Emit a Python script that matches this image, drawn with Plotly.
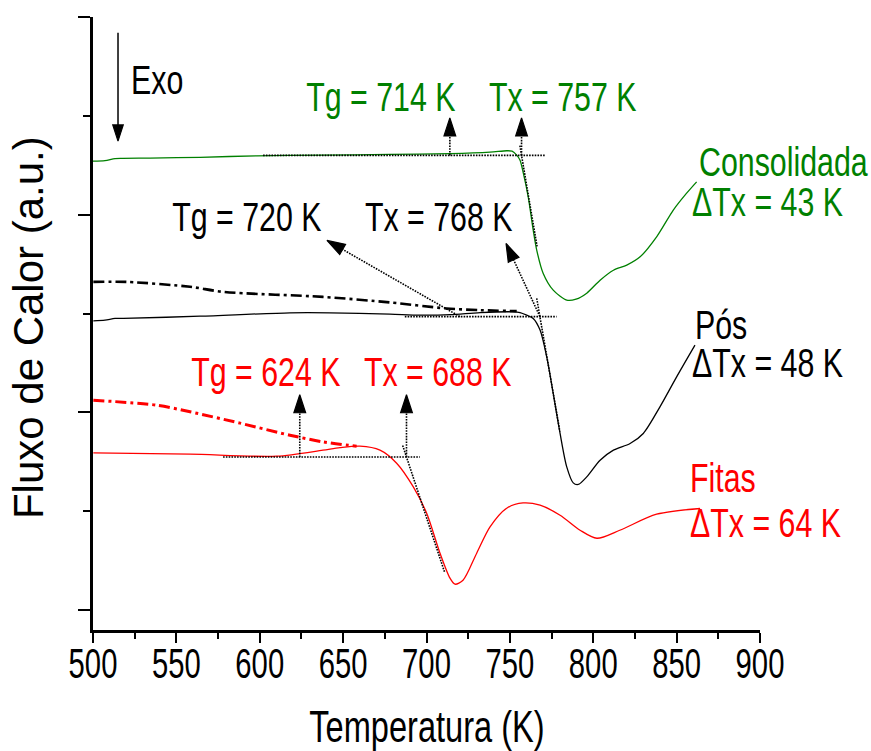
import plotly.graph_objects as go

# DSC scans: temperature (K) and heat flow (a.u., traces offset vertically)
cons_T = [500.0, 507.2, 513.2, 518.0, 534.2, 564.2, 598.2, 636.2, 678.1, 714.1, 738.1, 748.1,
          751.3, 754.1, 756.1, 758.1, 761.0, 764.0, 766.1, 770.0, 776.0, 784.1, 789.7, 796.1,
          804.1, 812.1, 820.1, 828.1, 838.0, 848.0, 856.0, 862.0]
cons_q = [4.542, 4.547, 4.568, 4.570, 4.573, 4.581, 4.596, 4.603, 4.610, 4.618, 4.633, 4.647,
          4.643, 4.603, 4.552, 4.418, 4.181, 3.844, 3.642, 3.406, 3.237, 3.136, 3.146, 3.207,
          3.338, 3.439, 3.490, 3.574, 3.776, 4.047, 4.218, 4.333]

pos_T = [500.2, 507.2, 513.2, 518.2, 564.2, 618.1, 642.1, 678.1, 696.1, 714.1, 732.1, 751.9,
         756.1, 760.1, 764.0, 768.1, 772.1, 776.0, 780.1, 784.1, 788.0, 791.0, 796.1, 804.1,
         812.1, 822.1, 830.0, 840.0, 850.0, 861.0]
pos_q = [2.927, 2.934, 2.951, 2.951, 2.974, 3.008, 3.008, 2.994, 2.984, 2.989, 3.010, 3.018,
         3.010, 2.984, 2.951, 2.833, 2.562, 2.192, 1.788, 1.450, 1.288, 1.272, 1.349, 1.517,
         1.619, 1.686, 1.788, 2.057, 2.360, 2.681]

# second (dash-dot) scan of the post-treated sample
pos2_T = [500.2, 520.2, 558.2, 578.1, 637.9, 678.1, 712.1, 732.1, 754.1]
pos2_q = [3.321, 3.321, 3.271, 3.220, 3.169, 3.113, 3.052, 3.035, 3.025]

fit_T = [500.2, 558.2, 610.2, 637.9, 648.1, 660.1, 672.1, 682.1, 692.1, 700.1, 708.1, 714.1,
         717.1, 721.9, 730.1, 738.1, 748.1, 757.9, 768.1, 780.1, 792.1, 802.2, 815.9, 838.0,
         864.1]
fit_q = [1.591, 1.578, 1.558, 1.619, 1.644, 1.659, 1.619, 1.487, 1.247, 0.981, 0.577, 0.324,
         0.263, 0.303, 0.577, 0.843, 1.032, 1.085, 1.062, 0.961, 0.809, 0.728, 0.809, 0.971,
         1.029]

# second (dash-dot) scan of the ribbons
fit2_T = [500.2, 538.2, 558.2, 588.2, 618.1, 637.9, 658.1]
fit2_q = [2.124, 2.074, 2.007, 1.892, 1.770, 1.703, 1.659]

# characteristic temperatures
samples = ["Consolidada", "Pós", "Fitas"]
Tg = [714, 720, 624]
Tx = [757, 768, 688]
base_q = [4.60, 2.97, 1.55]                       # baseline level before crystallisation
base_span = [(602, 771), (687, 778), (578, 696)]  # extent of the baseline construction
tan_slope = [-0.099, -0.097, -0.051]              # onset tangent slope (a.u./K)
tan_span = [(-1.0, 9.3), (-1.9, 12.0), (-2.3, 23.0)]
tg_tip = [(714, 4.98), (640.3, 3.74), (624, 2.18)]
tx_tip = [(757, 4.98), (747.7, 3.71), (688, 2.18)]

colors = ["#008000", "#000000", "#ff0000"]
FONT = "Liberation Sans, Arial, sans-serif"

fig = go.Figure()

curve_style = dict(mode="lines", line_shape="spline", hoverinfo="skip", showlegend=False)
fig.add_trace(go.Scatter(x=cons_T, y=cons_q, line=dict(color=colors[0], width=1.3, smoothing=0.8),
                         **curve_style))
fig.add_trace(go.Scatter(x=pos2_T, y=pos2_q,
                         line=dict(color=colors[1], width=2.6, smoothing=0.8, dash="11px,4px,3px,4px"),
                         **curve_style))
fig.add_trace(go.Scatter(x=pos_T, y=pos_q, line=dict(color=colors[1], width=1.3, smoothing=0.8),
                         **curve_style))
fig.add_trace(go.Scatter(x=fit2_T, y=fit2_q,
                         line=dict(color=colors[2], width=3, smoothing=0.8, dash="11px,4px,3px,4px"),
                         **curve_style))
fig.add_trace(go.Scatter(x=fit_T, y=fit_q, line=dict(color=colors[2], width=1.3, smoothing=0.8),
                         **curve_style))

helper = dict(color="#000000", width=1.6, dash="1.6px,1.2px")
arrow_marker = dict(symbol="arrow", size=[0, 19], angleref="previous", color="#000000",
                    opacity=1, line=dict(width=1.2, color="#000000"))

for i in range(3):
    b = base_q[i]
    # baseline
    fig.add_trace(go.Scatter(x=list(base_span[i]), y=[b, b], mode="lines", line=helper,
                             hoverinfo="skip", showlegend=False))
    # onset tangent through (Tx, baseline)
    s0, s1 = tan_span[i]
    fig.add_trace(go.Scatter(x=[Tx[i] + s0, Tx[i] + s1],
                             y=[b + tan_slope[i] * s0, b + tan_slope[i] * s1],
                             mode="lines", line=helper, hoverinfo="skip", showlegend=False))
    # pointer arrows from Tg and Tx to their labels
    for T0, tip in ((Tg[i], tg_tip[i]), (Tx[i], tx_tip[i])):
        fig.add_trace(go.Scatter(x=[T0, tip[0]], y=[b, tip[1]], mode="lines+markers",
                                 line=helper, marker=arrow_marker,
                                 hoverinfo="skip", showlegend=False))

# "Exo" direction arrow
fig.add_trace(go.Scatter(x=[515, 515], y=[5.84, 4.745], mode="lines+markers",
                         line=dict(color="#000000", width=1.5),
                         marker=dict(symbol="arrow", size=[0, 17], angleref="previous",
                                     color="#000000", opacity=1,
                                     line=dict(width=1.2, color="#000000")),
                         hoverinfo="skip", showlegend=False))

tg_lab = [(673.0, 5.19), (592.1, 3.976), (604.0, 2.408)]
tx_lab = [(781.6, 5.19), (706.9, 3.976), (706.3, 2.408)]
name_lab = [(862.2, 4.532), (859.8, 2.883), (856.8, 1.335)]
dtx_lab = [(858.0, 4.127), (858.0, 2.499), (856.8, 0.880)]

LAB = 41
for i in range(3):
    f = dict(family=FONT, size=LAB, color=colors[i])
    fig.add_annotation(x=tg_lab[i][0], y=tg_lab[i][1], text=f"Tg = {Tg[i]} K",
                       showarrow=False, font=f, xanchor="center", yanchor="middle")
    fig.add_annotation(x=tx_lab[i][0], y=tx_lab[i][1], text=f"Tx = {Tx[i]} K",
                       showarrow=False, font=f, xanchor="center", yanchor="middle")
    fig.add_annotation(x=name_lab[i][0], y=name_lab[i][1], text=samples[i],
                       showarrow=False, font=f, xanchor="left", yanchor="middle", align="left")
    fig.add_annotation(x=dtx_lab[i][0], y=dtx_lab[i][1], text=f"ΔTx = {Tx[i] - Tg[i]} K",
                       showarrow=False, font=f, xanchor="left", yanchor="middle", align="left")

fig.add_annotation(x=521.6, y=5.362, text="Exo", showarrow=False,
                   font=dict(family=FONT, size=LAB, color="#000000"),
                   xanchor="left", yanchor="middle", align="left")

# axis titles
fig.add_annotation(xref="paper", yref="paper", x=0.5, y=-0.158, text="Temperatura (K)",
                   showarrow=False, font=dict(family=FONT, size=44, color="#000000"),
                   xanchor="center", yanchor="middle")
fig.add_annotation(xref="paper", yref="paper", x=-0.097, y=0.493, text="Fluxo de Calor (a.u.)",
                   showarrow=False, textangle=-90, font=dict(family=FONT, size=42, color="#000000"),
                   xanchor="center", yanchor="middle")

fig.update_layout(
    width=871, height=751,
    margin=dict(l=93, r=111, t=17, b=121),
    paper_bgcolor="white", plot_bgcolor="white",
    showlegend=False,
    font=dict(family=FONT, color="#000000"),
)
fig.update_xaxes(range=[500, 900], tick0=500, dtick=50, ticks="outside", ticklen=10, tickwidth=2,
                 tickcolor="#000000", showline=True, linewidth=2.5, linecolor="#000000",
                 showgrid=False, zeroline=False, tickfont=dict(family=FONT, size=43),
                 ticklabelstandoff=-16,
                 minor=dict(dtick=25, ticks="outside", ticklen=6, tickwidth=2, tickcolor="#000000"))
fig.update_yaxes(range=[-0.2, 6.0], tick0=0, dtick=2, ticks="outside", ticklen=12, tickwidth=2,
                 tickcolor="#000000", showline=True, linewidth=2.5, linecolor="#000000",
                 showgrid=False, zeroline=False, showticklabels=False,
                 minor=dict(dtick=1, ticks="outside", ticklen=7, tickwidth=2, tickcolor="#000000"))

# horizontally condensed lettering for the horizontal texts (the rotated title is left as is)
post = """
var gd = document.getElementById('{plot_id}');
gd.querySelectorAll('.annotation-text, .xtick text').forEach(function(t){
  if (t.closest('[transform*="rotate(-90"]')) return;
  var k = t.closest('.xtick') ? 0.68 : 0.74;
  var L = t.getComputedTextLength();
  if (L > 0) {
    t.setAttribute('textLength', (L * k).toFixed(1));
    t.setAttribute('lengthAdjust', 'spacingAndGlyphs');
  }
});
"""

fig.write_html("out.html", post_script=post, config={"responsive": False})
